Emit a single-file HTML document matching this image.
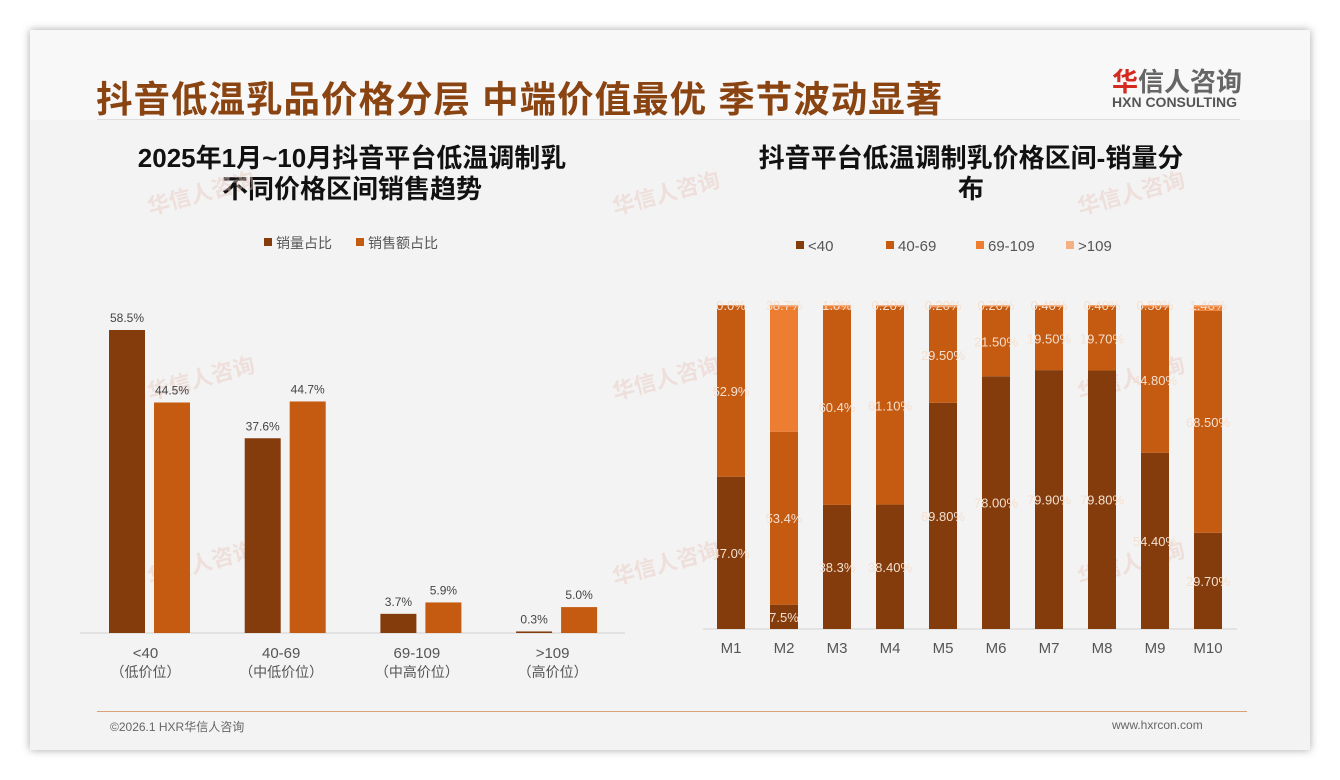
<!DOCTYPE html>
<html><head><meta charset="utf-8">
<style>
body{margin:0;width:1340px;height:780px;background:#fff;font-family:"Liberation Sans","Noto Sans CJK SC",sans-serif;position:relative;overflow:hidden}
#card{position:absolute;left:30px;top:30px;width:1280px;height:720px;background:#f3f3f3;box-shadow:0 0 8px rgba(0,0,0,.35)}
#hdr{position:absolute;left:0;top:0;width:1280px;height:90px;background:#f8f8f8}
.t{position:absolute;white-space:nowrap}
svg{position:absolute;left:0;top:0}
</style></head><body>
<div id="card">
<div id="hdr"></div>
<div class="t" style="left:66px;top:40px;font-size:36.5px;font-weight:bold;color:#8a4412;letter-spacing:1px">抖音低温乳品价格分层 中端价值最优 季节波动显著</div>
<div class="t" style="left:1082px;top:32px;font-size:26px;font-weight:bold;color:#666"><span style="color:#d42a20">华</span>信人咨询</div>
<div class="t" style="left:1082px;top:64px;font-size:14px;font-weight:bold;color:#555">HXN CONSULTING</div>
<div class="t" style="left:67px;top:89px;width:1143px;height:1px;background:#ddd"></div>
<div class="t" style="left:82px;top:113px;width:480px;text-align:center;font-size:26px;font-weight:bold;color:#111;line-height:31px">2025年1月~10月抖音平台低温调制乳<br>不同价格区间销售趋势</div>
<div class="t" style="left:701px;top:113px;width:480px;text-align:center;font-size:26px;font-weight:bold;color:#111;line-height:31px">抖音平台低温调制乳价格区间-销量分<br>布</div>
<div class="t" style="left:67px;top:681px;width:1150px;height:1px;background:#d9a27a"></div>
<div class="t" style="left:80px;top:688px;font-size:12px;color:#666">©2026.1 HXR华信人咨询</div>
<div class="t" style="left:1082px;top:688px;font-size:12px;color:#666">www.hxrcon.com</div>
</div>
<svg id="chart" width="1340" height="780"></svg>
<script>
const leftCats=["<40","40-69","69-109",">109"];
const leftSub=["（低价位）","（中低价位）","（中高价位）","（高价位）"];
const volShare=[58.5,37.6,3.7,0.3];
const amtShare=[44.5,44.7,5.9,5.0];
const months=["M1","M2","M3","M4","M5","M6","M7","M8","M9","M10"];
const s40=[47.0,7.5,38.3,38.4,69.8,78.0,79.9,79.8,54.4,29.7];
const s4069=[52.9,53.4,60.4,61.1,29.5,21.5,19.5,19.7,44.8,68.5];
const s69109=[0.0,38.7,1.0,0.2,0.2,0.2,0.4,0.4,0.5,1.4];
const s109=[0.1,0.4,0.3,0.3,0.5,0.3,0.2,0.1,0.3,0.4];
const lab40=["47.0%","7.5%","38.3%","38.40%","69.80%","78.00%","79.90%","79.80%","54.40%","29.70%"];
const lab4069=["52.9%","53.4%","60.4%","61.10%","29.50%","21.50%","19.50%","19.70%","44.80%","68.50%"];
const lab69109=["0.0%","38.7%","1.0%","0.20%","0.20%","0.20%","0.40%","0.40%","0.50%","1.40%"];
const legLeft=["销量占比","销售额占比"];
const legRight=["<40","40-69","69-109",">109"];
const C=["#843c0c","#c55a11","#ed7d31","#f4b183"];
const svg=document.getElementById('chart');const NS="http://www.w3.org/2000/svg";
function mk(t,a,txt){const e=document.createElementNS(NS,t);for(const k in a)e.setAttribute(k,a[k]);if(txt!=null)e.textContent=txt;svg.appendChild(e);return e;}
[[150,215],[615,215],[1080,215],[150,400],[615,400],[1080,400],[150,585],[615,585],[1080,585]].forEach(p=>{
const w=mk('text',{x:p[0],y:p[1],'font-size':22,'font-weight':'bold',fill:'#e8c8c0',opacity:0.45,transform:`rotate(-15 ${p[0]} ${p[1]})`},'华信人咨询');

});
const lBase=633,lScale=303/58.5;
const lX=i=>149.5+135.7*i;
const yL=v=>lBase-v*lScale;
const xl=mk('line',{x1:80,x2:625,y1:lBase,y2:lBase,stroke:'#d0d0d0'});


leftCats.forEach((c,i)=>{
 const cx=lX(i);
 [[volShare,C[0],-40.5],[amtShare,C[1],4.5]].forEach((s,j)=>{
  const v=s[0][i];const x=cx+s[2];
  const r=mk('rect',{x:x,y:yL(v),width:36,height:v*lScale,fill:s[1]});
  
  
  const t=mk('text',{x:x+18,y:yL(v)-8,'text-anchor':'middle','font-size':12,fill:'#444'},v.toFixed(1)+'%');
  
  
 });
 const a=mk('text',{x:cx-4,y:658,'text-anchor':'middle','font-size':15,fill:'#555'},c);
 
 
 const b=mk('text',{x:cx-4,y:677,'text-anchor':'middle','font-size':14,fill:'#555'},leftSub[i]);
 
 
});
legLeft.forEach((l,i)=>{const x=264+i*92;
 const r=mk('rect',{x:x,y:238,width:8,height:8,fill:C[i]});
 const t=mk('text',{x:x+12,y:248,'font-size':14,fill:'#555'},l);});
const rBase=629,rH=324,rX0=731,rStep=53;
const yR=v=>rBase-v/100*rH;
const xr=mk('line',{x1:703,x2:1237,y1:rBase,y2:rBase,stroke:'#d0d0d0'});


months.forEach((m,i)=>{
 const cx=rX0+i*rStep;let acc=0;
 [[s40,lab40],[s4069,lab4069],[s69109,lab69109],[s109,null]].forEach((s,j)=>{
  const v=s[0][i];
  const r=mk('rect',{x:cx-14,y:yR(acc+v),width:28,height:v/100*rH,fill:C[j]});
  
  
  if(s[1]){let ly=j==2?yR(100)+5:yR(acc+v/2)+5;
   const t=mk('text',{x:cx,y:ly,'text-anchor':'middle','font-size':13,fill:'#f4e0d0'},s[1][i]);
   
   }
  acc+=v;
 });
 const t=mk('text',{x:cx,y:653,'text-anchor':'middle','font-size':15,fill:'#555'},m);
 
 
});
legRight.forEach((l,i)=>{const x=796+i*90;
 const r=mk('rect',{x:x,y:241,width:8,height:8,fill:C[i]});
 const t=mk('text',{x:x+12,y:251,'font-size':15,fill:'#555'},l);});
</script>
</body></html>
